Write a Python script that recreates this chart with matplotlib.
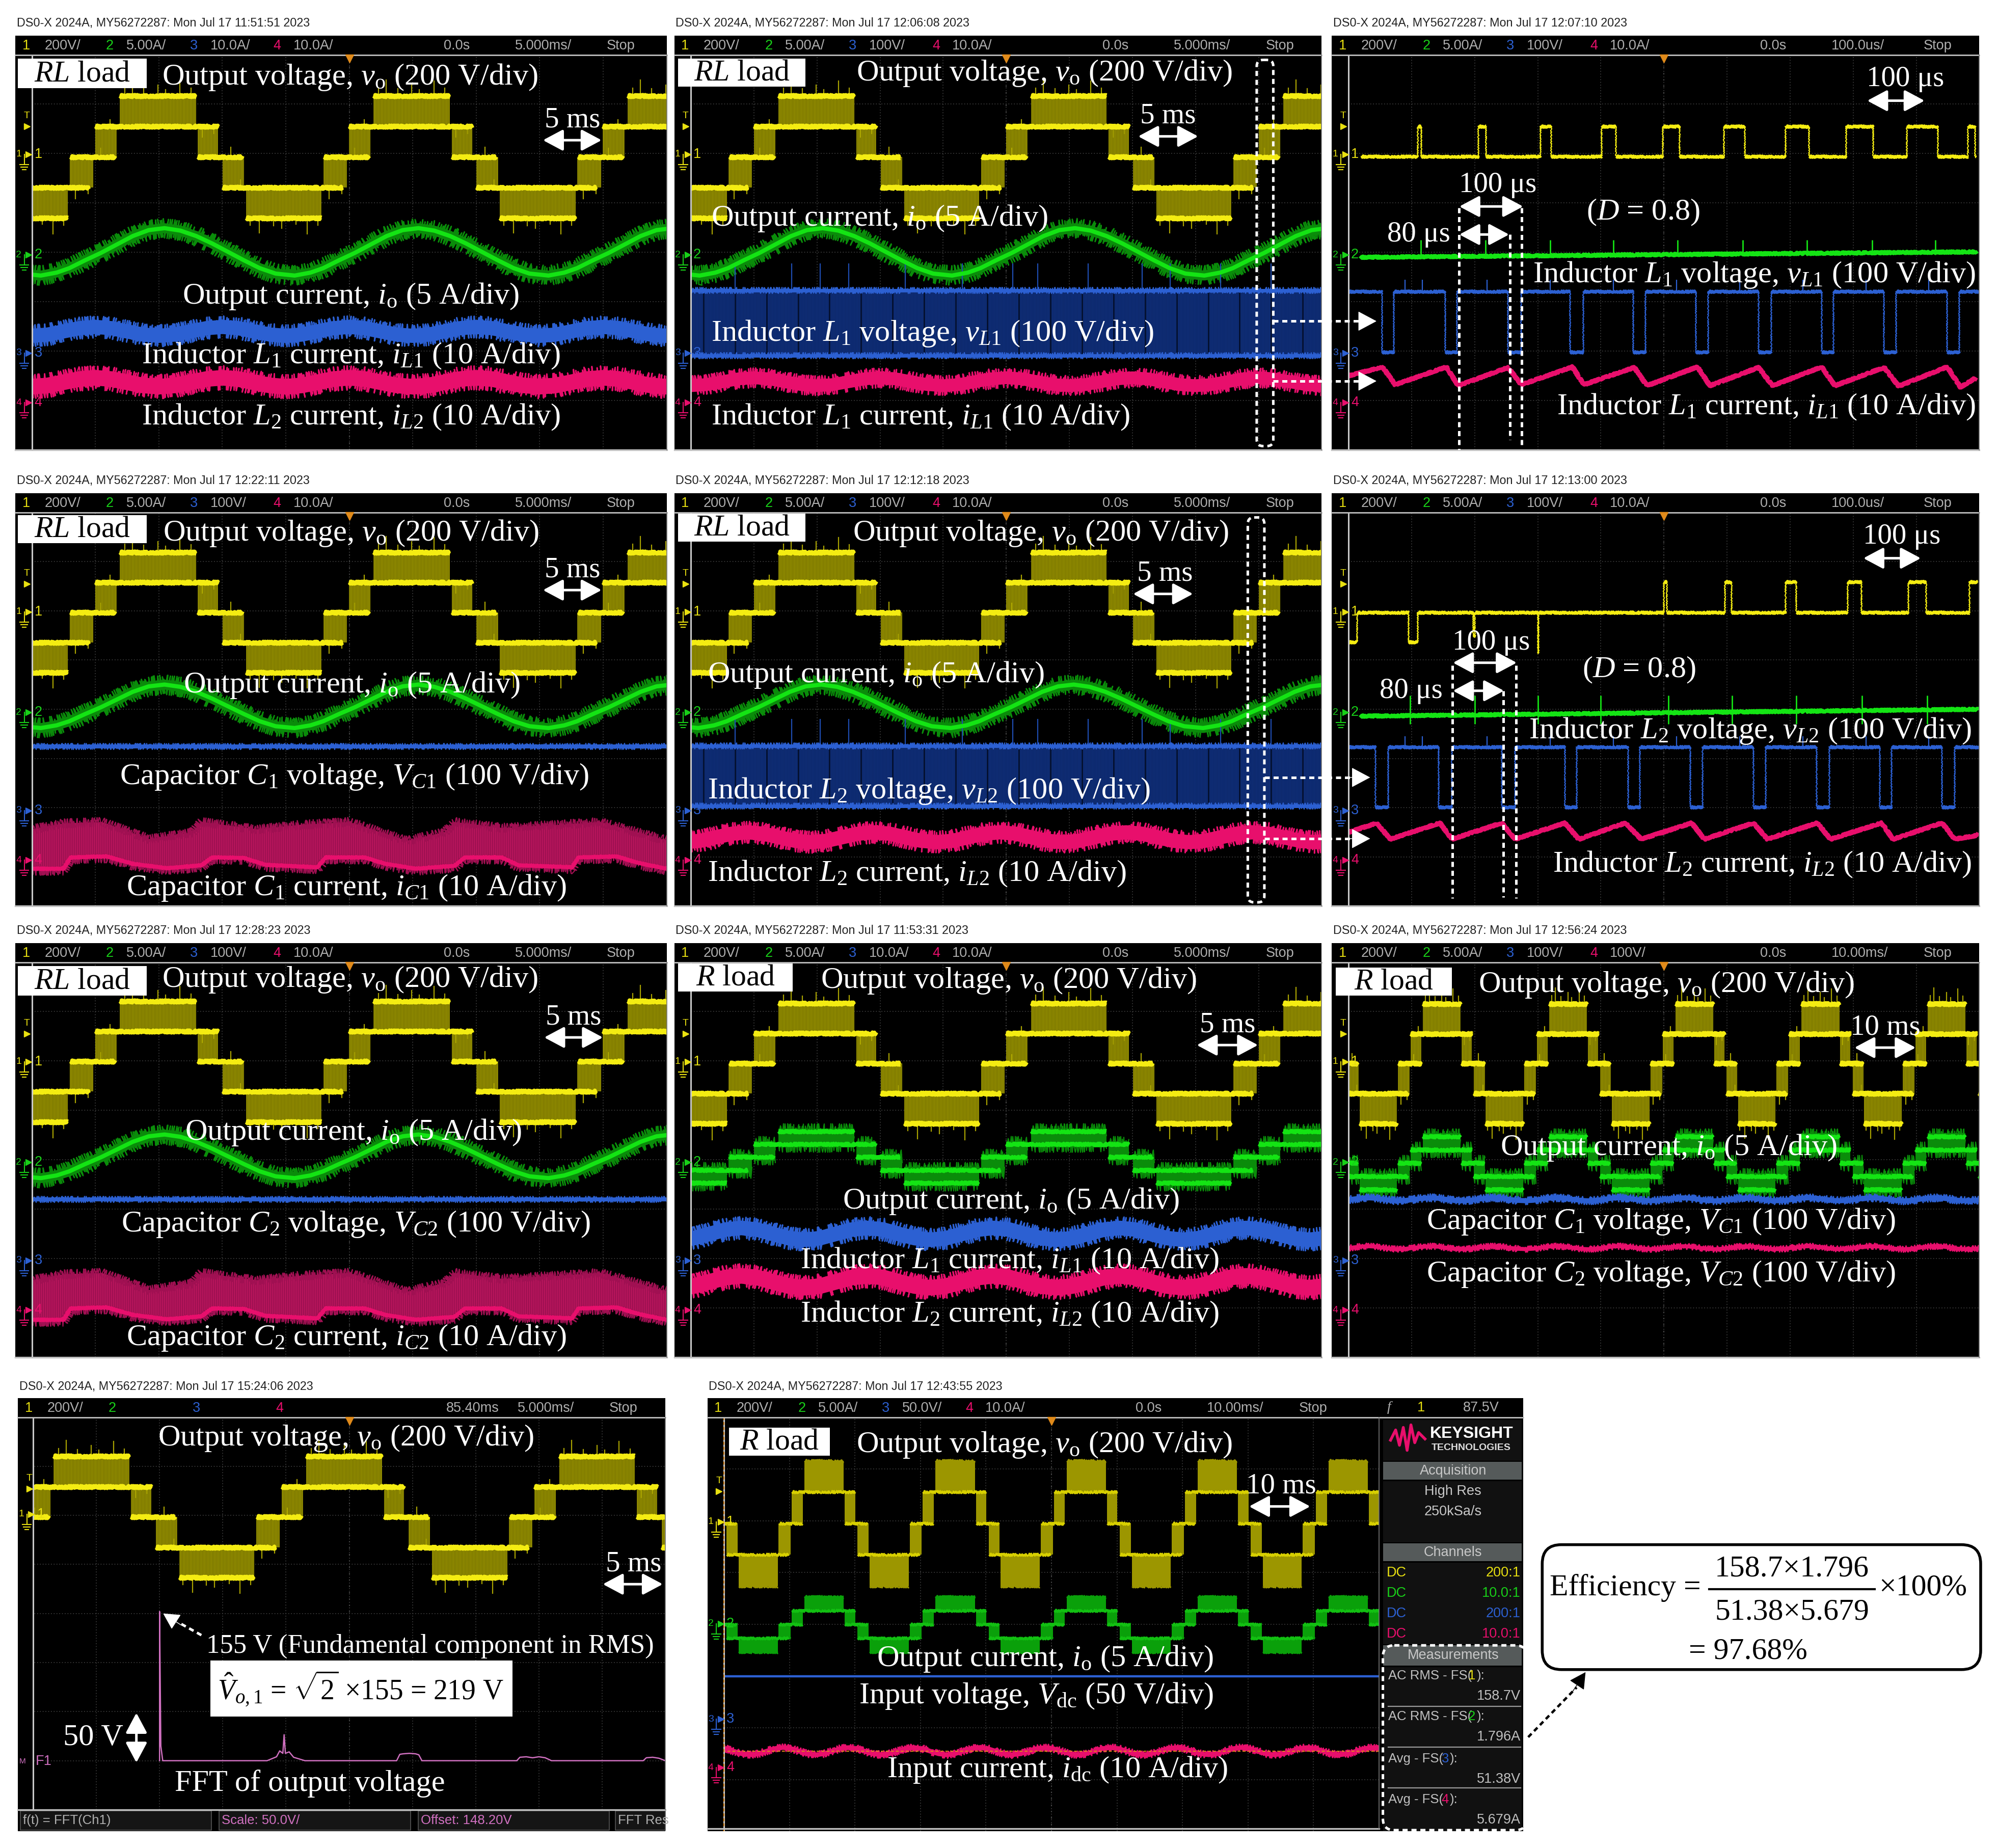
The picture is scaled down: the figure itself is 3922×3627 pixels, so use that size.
#!/usr/bin/env python3
"""Oscilloscope captures of the seven-level inverter (11 screens + efficiency box)"""

import numpy as np
import matplotlib
matplotlib.use('Agg')
import matplotlib.pyplot as plt
from matplotlib.patches import FancyBboxPatch, Rectangle

plt.rcParams['font.family'] = ['Liberation Serif', 'DejaVu Serif']
plt.rcParams['mathtext.fontset'] = 'custom'
plt.rcParams['mathtext.rm'] = 'Liberation Serif'
plt.rcParams['mathtext.it'] = 'Liberation Serif:italic'
plt.rcParams['mathtext.bf'] = 'Liberation Serif:bold'
plt.rcParams['hatch.linewidth'] = 1.0

W, H = 1568.0, 1450.0
NARROW = ['Liberation Sans', 'DejaVu Sans']
HDR = 19.5

# --- colours
YEL, YEL_D = '#f4ec12', '#6e6a00'
GRN, GRN_D = '#14e414', '#0a8c0a'
BLU, BLU_D = '#2c60d2', '#10307c'
PNK, PNK_D = '#e80f6c', '#a01052'

# --- output voltage staircase, one 4 div period (div from the first rising edge to top level)
band_t0 = [0.00, 1.23, 1.62, 1.99, 3.21, 3.61]
band_t1 = [1.20, 1.55, 1.96, 3.18, 3.58, 3.95]
band_hi = [2, 1, 0, -1, 0, 1]
band_lo = [1, 0, -1, -2, -1, 0]
line_t0 = [0.00, -0.39, 1.23, 3.22, 1.62, 1.99]
line_t1 = [1.20, 1.55, 1.93, 3.93, 3.51, 3.18]
line_lev = [2, 1, 0, 0, -1, -2]
spike_t = [0.08, 0.2, 0.38, 0.6, 0.72, 0.95, 1.12, 1.3, 1.48, 1.75, 1.9, 2.05, 2.2, 2.42, 2.55, 2.78, 2.95, 3.12, 3.3, 3.5, 3.7, 3.85]
spike_lev = [2, 2, 2, 2, 2, 2, 2, 1, 1, 0, -1, -2, -2, -2, -2, -2, -2, -2, -1, -1, 0, 1]
spike_len = [-0.16, -0.32, -0.14, -0.22, -0.12, -0.3, -0.15, 0.22, 0.14, -0.2, -0.16, 0.14, 0.3, 0.15, 0.2, 0.12, 0.32, 0.14, 0.22, 0.12, -0.18, -0.14]

# --- output current, one period from its crest (offset in div, + is lower on screen)
io_t = [0, 0.25, 0.5, 0.75, 1, 1.25, 1.5, 1.75, 2.05, 2.3, 2.5, 2.75, 3, 3.25, 3.5, 3.75, 4]
io_y = [-0.48, -0.43, -0.32, -0.17, 0, 0.17, 0.33, 0.44, 0.48, 0.42, 0.33, 0.17, 0.02, -0.15, -0.32, -0.44, -0.48]

# --- inductor current ripple, one 2 div period from its crest
rip_t = [0, 0.25, 0.5, 0.75, 1, 1.25, 1.5, 1.75, 2]
rip_y = [-1.0, -0.72, 0.02, 0.72, 1.0, 0.72, 0.0, -0.72, -1.0]

# --- capacitor current envelope and bright trace
ic_top_t = [0, 0.5, 1.1, 1.86, 2.53, 2.67, 3.55, 4.22, 5, 5.91, 6.5, 6.66, 7.4, 8.28, 8.95, 9.93, 10]
ic_top_y = [6.44, 6.32, 6.29, 6.64, 6.5, 6.29, 6.44, 6.35, 6.29, 6.67, 6.5, 6.29, 6.41, 6.35, 6.29, 6.64, 6.66]
ic_low_t = [0, 0.5, 0.61, 1.18, 1.59, 2.13, 2.67, 2.84, 3.34, 3.68, 4.5, 4.63, 5.24, 5.57, 6.05, 6.66, 6.82, 7.4, 7.67, 8.51, 8.61, 9.22, 9.55, 10]
ic_low_y = [7.24, 7.24, 7.01, 6.99, 7.14, 7.23, 7.17, 7.01, 7.02, 7.16, 7.21, 7.01, 7.01, 7.14, 7.24, 7.18, 7.01, 7.01, 7.17, 7.21, 7.01, 6.99, 7.12, 7.24]

# --- switching detail, 100 us/div, panel (c)
c_yel_up = [1.10, 1.155, 2.06, 2.18, 3.04, 3.21, 4.01, 4.24, 4.98, 5.25, 5.95, 6.28, 6.93, 7.30, 7.89, 8.32, 8.85, 9.34, 9.82, 9.93]
c_blu_dn = [0.53, 0.72, 1.53, 1.72, 2.53, 2.74, 3.51, 3.72, 4.51, 4.71, 5.51, 5.70, 6.50, 6.70, 7.50, 7.69, 8.49, 8.68, 9.49, 9.68]
c_pnk_t = [0, 0.54, 0.74, 1.55, 1.74, 2.53, 2.74, 3.55, 3.73, 4.53, 4.73, 5.53, 5.73, 6.5, 6.72, 7.5, 7.71, 8.49, 8.72, 9.49, 9.70, 9.93]
c_pnk_y = [6.5, 6.32, 6.68, 6.32, 6.7, 6.33, 6.68, 6.32, 6.68, 6.33, 6.7, 6.32, 6.7, 6.33, 6.7, 6.32, 6.7, 6.33, 6.71, 6.32, 6.73, 6.55]
c_grn_t = [0.2, 9.95]
c_grn_y = [4.10, 3.99]
c_spk = [1.15, 2.17, 3.2, 4.2, 5.22, 6.25, 7.27, 8.3, 9.3]
c_blu_spk = [0.9, 1.17, 2.2, 3.2, 4.2, 5.2, 6.2, 7.2, 8.2, 9.2]

# --- switching detail, panel (f)
f_yel_t = [0, 0.14, 0.14, 0.2, 0.95, 0.95, 1.10, 1.10, 1.98, 1.98, 2.0, 2.0, 3.0, 3.0, 3.01, 3.01, 5.0, 5.0, 5.05, 5.05, 5.97, 5.97, 6.07, 6.07, 6.93, 6.93, 7.10, 7.10, 7.91, 7.91, 8.13, 8.13, 8.87, 8.87, 9.16, 9.16, 9.84, 9.84, 9.97]
f_yel_y = [2.63, 2.63, 2.03, 2.03, 2.03, 2.63, 2.63, 2.03, 2.03, 2.5, 2.5, 2.03, 2.03, 2.85, 2.85, 2.03, 2.03, 1.41, 1.41, 2.03, 2.03, 1.41, 1.41, 2.03, 2.03, 1.41, 1.41, 2.03, 2.03, 1.41, 1.41, 2.03, 2.03, 1.41, 1.41, 2.03, 2.03, 1.41, 1.41]
f_blu_dn = [0.43, 0.63, 1.43, 1.64, 2.43, 2.64, 3.43, 3.62, 4.43, 4.62, 5.42, 5.61, 6.42, 6.61, 7.42, 7.62, 8.42, 8.61, 9.41, 9.61]
f_pnk_t = [0, 0.45, 0.66, 1.45, 1.64, 2.43, 2.64, 3.43, 3.65, 4.39, 4.64, 5.44, 5.64, 6.42, 6.64, 7.43, 7.64, 8.45, 8.63, 9.41, 9.61, 9.97]
f_pnk_y = [6.5, 6.31, 6.64, 6.31, 6.64, 6.31, 6.64, 6.31, 6.64, 6.31, 6.64, 6.31, 6.64, 6.31, 6.64, 6.31, 6.64, 6.31, 6.64, 6.31, 6.64, 6.56]
f_spk = [0.98, 2.0, 3.0, 4.0, 5.07, 6.08, 7.1, 8.14, 9.17]

# --- FFT trace of panel (j)
fft_t = [2.0, 2.0, 2.02, 2.05, 3.7, 3.85, 3.9, 3.95, 3.97, 3.99, 4.05, 4.12, 4.3, 5.75, 5.8, 5.85, 5.95, 6.05, 6.1, 6.15, 7.65, 7.7, 7.8, 7.9, 8.0, 8.1, 8.2, 9.65, 9.7, 9.8, 9.9, 10]
fft_y = [7.0, 3.96, 6.7, 7.0, 7.0, 6.92, 6.8, 6.85, 6.47, 6.85, 6.82, 6.93, 7.0, 7.0, 6.87, 6.86, 6.85, 6.86, 6.88, 7.0, 7.0, 6.93, 6.92, 6.94, 6.92, 6.94, 7.0, 7.0, 6.94, 6.93, 6.95, 7.0]

inv_blu_spk = [0.7, 1.6, 2.05, 2.5, 3.4, 4.3, 5.1, 5.5, 6.3, 7.15, 7.6, 8.4, 9.2]

# --- scope headers
TIMES = ['11:51:51', '12:06:08', '12:07:10', '12:22:11', '12:12:18', '12:13:00',
         '12:28:23', '11:53:31', '12:56:24', '15:24:06', '12:43:55']

fig = plt.figure(figsize=(39.23, 36.27), dpi=100, facecolor='white')
ov = fig.add_axes([0, 0, 1, 1], zorder=10)
ov.set_xlim(0, W)
ov.set_ylim(H, 0)
ov.axis('off')
ov.patch.set_alpha(0)


def scope_ax(x0, y0, x1, y1, xleft):
    """Black screen whose data units are scope divisions, y counted from the top."""
    ax = fig.add_axes([x0 / W, 1 - y1 / H, (x1 - x0) / W, (y1 - y0) / H])
    div = (x1 - xleft) / 10.0
    left = -(xleft - x0) / div
    ax.set_xlim(left, 10)
    ax.set_ylim(8, 0)
    ax.set_facecolor('black')
    ax.set_xticks([])
    ax.set_yticks([])
    for s in ax.spines.values():
        s.set_visible(False)
    for i in range(1, 10):
        ax.axvline(i, color='#3a3a3a', lw=1.3, ls=(0, (1, 2)), zorder=0)
    for j in range(1, 8):
        ax.axhline(j, color='#3a3a3a', lw=1.3, ls=(0, (1, 2)), zorder=0)
    ax.axvline(5, color='#4a4a4a', lw=1.5, ls=(0, (1, 5)), zorder=0)
    # traces start at the left graticule edge
    ax.add_patch(Rectangle((left, 0), -left, 8, fc='black', ec='none', zorder=6))
    ax.axvline(0, color='#c8c8c8', lw=2.2, zorder=7)
    return ax


def lw_of(d):
    # thickness in div -> points
    return d * 97 * 0.72


def rough(line, scale=2, length=6, rnd=3):
    line.set_sketch_params(scale, length, rnd)
    return line


def scribble(ax, xs, ys, half, color, length=5, rnd=3, lw=1.6, z=2):
    # noisy band: a thin trace shaken by half px across its path
    rough(ax.plot(xs, ys, color=color, lw=lw, solid_capstyle='butt', zorder=z)[0], half, length, rnd)


def stair(ax, phase, center, step, bright, dark, period=4, pad=0.0, blw=0.075, ends=True, spikes=True):
    s = period / 4.0
    n = int(12 / period) + 2
    olive = dark == YEL_D
    for k in range(-1, n):
        o = phase + k * period
        for t0, t1, hi, lo in zip(band_t0, band_t1, band_hi, band_lo):
            ax.fill_between([o + t0 * s, o + t1 * s], center - hi * step - pad * 0.4, center - lo * step + pad * 0.4,
                            facecolor=dark, edgecolor='#a09a00' if olive else dark,
                            hatch='||||||' if olive else None, linewidth=0, zorder=2)
            if pad > 0:
                for lev in (hi, lo):
                    scribble(ax, [o + t0 * s, o + t1 * s], [center - lev * step] * 2, pad * 97, dark)
        for t0, t1, lev in zip(line_t0, line_t1, line_lev):
            col = bright if ends or abs(lev) < 2 else dark
            rough(ax.plot([o + t0 * s, o + t1 * s], [center - lev * step] * 2, color=col,
                          lw=lw_of(blw), solid_capstyle='butt', zorder=3)[0], 2.5, 4, 3)
        if spikes:
            for t, lev, d in zip(spike_t, spike_lev, spike_len):
                y = center - lev * step
                ax.plot([o + t * s] * 2, [y, y + d], color='#a8a200', lw=1.6, zorder=2)


def periodic(t, y, phase, period):
    xs, ys = [], []
    t = np.asarray(t, float)
    for k in range(-1, int(12 / period) + 2):
        xs.extend(phase + k * period + t)
        ys.extend(y)
    return np.array(xs), np.array(ys)


def current(ax, phase, center, amp=1.0, half=0.2, core=0.085):
    xs, ys = periodic(io_t, io_y, phase, 4)
    ax.plot(xs, center + amp * ys, color=GRN_D, lw=lw_of(0.2), solid_capstyle='butt', zorder=2)
    scribble(ax, xs, center + amp * ys, half * 97, GRN_D, length=5, lw=1.8)
    ax.plot(xs, center + amp * ys, color=GRN, lw=lw_of(core), zorder=3)


def ripple(ax, phase, center, amp, thick, color, period=2.0):
    xs, ys = periodic(np.array(rip_t) * period / 2.0, rip_y, phase, period)
    ax.plot(xs, center + amp * ys, color=color, lw=lw_of(thick * 0.72), solid_capstyle='butt', zorder=2)
    scribble(ax, xs, center + amp * ys, thick * 0.56 * 97, color, length=5, lw=2.0)


def trace(ax, xs, ys, color, lw=0.05):
    # thin edges, thicker flat tops
    rough(ax.plot(xs, ys, color=color, lw=lw_of(0.022), zorder=3)[0], 1, 6, 3)
    for i in range(len(xs) - 1):
        if ys[i] == ys[i + 1] and xs[i + 1] > xs[i]:
            rough(ax.plot(xs[i:i + 2], ys[i:i + 2], color=color, lw=lw_of(lw), solid_capstyle='butt', zorder=3)[0], 2, 4, 3)


def square(ax, base, other, edges, color, lw=0.05, x_start=0.0, x_end=10.0):
    xs, ys = [x_start], [base]
    for i in range(0, len(edges), 2):
        xs += [edges[i], edges[i], edges[i + 1], edges[i + 1]]
        ys += [base, other, other, base]
    xs.append(x_end)
    ys.append(base)
    trace(ax, xs, ys, color, lw)


def header(x0, x1, y0, y1, stamp_y, stamp, scales, tb, t0='0.0s'):
    ov.add_patch(Rectangle((x0, y0), x1 - x0, y1 - y0, fc='black', ec='none'))
    ov.plot([x0, x1], [y1, y1], color='#c0c0c0', lw=2)
    ym = (y0 + y1) / 2 + 0.3
    ov.text(x0 + 1, stamp_y, 'DS0-X 2024A, MY56272287: Mon Jul 17 %s 2023' % stamp, family=NARROW, fontsize=16.8,
            color='#222222', va='center', ha='left')
    for lab, xo, col in zip('1234', [5.5, 71, 137, 202.5], ['#e8e010', '#18d018', '#2c60d2', PNK]):
        ov.text(x0 + xo, ym, lab, family=NARROW, fontsize=HDR, color=col, va='center', ha='left')
    for txt, xo in zip(scales, [23, 87, 153, 218]):
        ov.text(x0 + xo, ym, txt, family=NARROW, fontsize=HDR, color='#b0b0b0', va='center', ha='left')
    ov.text(x0 + 336, ym, t0, family=NARROW, fontsize=HDR, color='#b0b0b0', va='center', ha='left')
    ov.text(x0 + 392, ym, tb, family=NARROW, fontsize=HDR, color='#b0b0b0', va='center', ha='left')
    ov.text(x0 + 464, ym, 'Stop', family=NARROW, fontsize=HDR, color='#b0b0b0', va='center', ha='left')


def chmarks(x0, ytop, labs=((78, '1', '#e8e010'), (157, '2', '#18d018'), (234, '3', '#2c60d2'), (273, '4', PNK)), trig=True):
    for rel, lab, col in labs:
        y = ytop + rel
        ov.text(x0 + 15, y, lab, family=NARROW, fontsize=HDR, color=col, va='center', ha='left')
        ov.text(x0 + 0.5, y, lab, family=NARROW, fontsize=14, color=col, va='center', ha='left')
        ov.plot([x0 + 10.5], [y], marker='>', ms=8, color=col)
        ov.plot([x0 + 7, x0 + 7], [y, y + 8], color=col, lw=1.5)
        for dx, dy in ((3.5, 8), (2.5, 10), (1.5, 12)):
            ov.plot([x0 + 7 - dx, x0 + 7 + dx], [y + dy, y + dy], color=col, lw=1.5)
    if trig:
        ov.text(x0 + 9, ytop + 48, 'T', family=NARROW, fontsize=14, color='#e8e010', va='center', ha='center')
        ov.plot([x0 + 9], [ytop + 56], marker='>', ms=9, color='#e8e010')


def frame(x0, x1, y0, y1, xc):
    ov.plot([x0, x1], [y1, y1], color='#c0c0c0', lw=2.4)
    ov.plot([x1, x1], [y0, y1], color='#777777', lw=1.2)
    ov.plot([xc], [y0 + 3], marker='v', ms=11, color='#e08a1a')


def label(x, y, txt, ha='left', size=43.5):
    ov.text(x, y + 1.5, txt, color='white', fontsize=size, ha=ha, va='center')


def loadbox(x0, y0, x1, y1, txt):
    ov.add_patch(Rectangle((x0, y0), x1 - x0, y1 - y0, fc='white', ec='none'))
    ov.text((x0 + x1) / 2, (y0 + y1) / 2 + 0.5, txt, color='black', fontsize=43, ha='center', va='center')


def dbl(x0, y0, x1, y1, color='white'):
    ov.annotate('', xy=(x1, y1), xytext=(x0, y0),
                arrowprops=dict(arrowstyle='<|-|>,head_length=0.6,head_width=0.32', color=color, lw=3.6,
                                mutation_scale=40, shrinkA=0, shrinkB=0))


def span(xa, xb, y, txt, tx=None, ty=None):
    dbl(xa, y, xb, y)
    ov.text((xa + xb) / 2 if tx is None else tx, y - 16 if ty is None else ty + 1, txt, color='white', fontsize=41,
            ha='center', va='center')


def dash_arrow(x0, y, x1):
    ov.plot([x0, x1 - 14], [y, y], color='white', lw=3.6, ls=(0, (2, 1.5)))
    ov.annotate('', xy=(x1, y), xytext=(x1 - 16, y),
                arrowprops=dict(arrowstyle='-|>,head_length=0.6,head_width=0.32', color='white', lw=1,
                                mutation_scale=40, shrinkA=0, shrinkB=0))


def vdash(x, y0, y1):
    ov.plot([x, x], [y0, y1], color='white', lw=3.6, ls=(0, (2, 1.5)))


def dash_round(x0, y0, x1, y1, rnd=5):
    ov.add_patch(FancyBboxPatch((x0, y0), x1 - x0, y1 - y0, boxstyle='round,pad=0,rounding_size=%g' % rnd,
                                fc='none', ec='white', lw=3.6, ls=(0, (2, 1.5)), mutation_aspect=1))


vo = r'Output voltage, $v_{\mathrm{o}}$ (200 V/div)'
io = r'Output current, $i_{\mathrm{o}}$ (5 A/div)'
iL1 = r'Inductor $L_{1}$ current, $i_{L1}$ (10 A/div)'
iL2 = r'Inductor $L_{2}$ current, $i_{L2}$ (10 A/div)'
vL1 = r'Inductor $L_{1}$ voltage, $v_{L1}$ (100 V/div)'
vL2 = r'Inductor $L_{2}$ voltage, $v_{L2}$ (100 V/div)'
vC1 = r'Capacitor $C_{1}$ voltage, $V_{C1}$ (100 V/div)'
vC2 = r'Capacitor $C_{2}$ voltage, $V_{C2}$ (100 V/div)'
iC1 = r'Capacitor $C_{1}$ current, $i_{C1}$ (10 A/div)'
iC2 = r'Capacitor $C_{2}$ current, $i_{C2}$ (10 A/div)'
RL = r'$RL$ load'
R = r'$R$ load'
COLX = [(12, 523), (529, 1037), (1045, 1553)]
ROWY = [(28, 43, 353, 18), (387, 402, 711, 377), (740, 755, 1065, 730)]


def panel(col, row, stamp, scales, tb):
    x0, x1 = COLX[col]
    yh, y0, y1, ys = ROWY[row]
    ax = scope_ax(x0, y0, x1, y1, x0 + 13)
    header(x0, x1, yh, y0, ys, stamp, scales, tb)
    chmarks(x0, y0)
    frame(x0, x1, y0, y1, x0 + 13 + (x1 - x0 - 13) / 2)
    return ax


def solid_inductor(ax, top, bot):
    ax.fill_between([0, 10], top, bot, facecolor=BLU_D, edgecolor='#0c2666', hatch='||||||', linewidth=0, zorder=2)
    for y in (top, bot):
        ax.plot([0, 10], [y, y], color=BLU, lw=lw_of(0.07), solid_capstyle='butt', zorder=3)
        scribble(ax, [0, 10], [y, y], 6, BLU, z=3)
    ax.vlines(inv_blu_spk, top - 0.55, top, color='#1e4cb0', lw=1.6, zorder=2)
    ax.vlines(np.arange(0, 10, 0.5) + 0.2, top, bot, color='#04102e', lw=2, zorder=2)


def cap_current(ax):
    ax.fill(ic_top_t + ic_low_t[::-1], ic_top_y + ic_low_y[::-1], facecolor=PNK_D, edgecolor='#c01860', hatch='||||', lw=0, zorder=2)
    scribble(ax, ic_top_t, ic_top_y, 9, PNK_D)
    scribble(ax, ic_low_t, np.array(ic_low_y) + 0.04, 9, PNK_D)
    ax.plot(ic_low_t, ic_low_y, color=PNK, lw=lw_of(0.08), zorder=3)
    scribble(ax, ic_low_t, ic_low_y, 4, PNK, z=3)


# (a) RL load, inductor currents
ax = panel(0, 0, TIMES[0], ['200V/', '5.00A/', '10.0A/', '10.0A/'], '5.000ms/')
stair(ax, 1.385, 2.07, 0.62, YEL, YEL_D)
current(ax, 2.09, 3.99)
ripple(ax, 1.0, 5.6, 0.09, 0.4, BLU)
ripple(ax, 1.0, 6.63, 0.09, 0.44, PNK)
loadbox(14, 46, 115, 69, RL)
label(127, 59, vo)
label(275, 231, io, 'center')
label(111, 278, iL1)
label(111, 326, iL2)
span(426, 472, 110, '5 ms')

# (b) RL load, L1 voltage
ax = panel(1, 0, TIMES[1], ['200V/', '5.00A/', '100V/', '10.0A/'], '5.000ms/')
stair(ax, 1.39, 2.07, 0.62, YEL, YEL_D)
current(ax, 2.09, 3.99)
solid_inductor(ax, 4.77, 6.09)
ripple(ax, 1.0, 6.62, 0.08, 0.36, PNK)
loadbox(532, 46, 632, 68, RL)
label(672, 56, vo)
label(558, 170, io)
label(558, 260, vL1)
label(558, 326, iL1)
span(893, 940, 107, '5 ms')
dash_round(986, 47, 999, 350)
dash_arrow(999, 252, 1080)
dash_arrow(999, 299, 1080)

# (c) zoom of (b)
ax = panel(2, 0, TIMES[2], ['200V/', '5.00A/', '100V/', '10.0A/'], '100.0us/')
square(ax, 2.06, 1.45, c_yel_up, YEL, x_start=0.2, x_end=9.95)
rough(ax.plot(c_grn_t, c_grn_y, color=GRN, lw=lw_of(0.07), zorder=3)[0], 2, 4, 3)
ax.vlines(c_spk, 3.75, 4.05, color=GRN, lw=2, zorder=3)
square(ax, 4.79, 6.02, c_blu_dn, BLU)
ax.vlines(c_blu_spk, 4.55, 4.79, color=BLU, lw=1.6, zorder=3)
rough(ax.plot(c_pnk_t, c_pnk_y, color=PNK, lw=lw_of(0.075), zorder=3)[0], 2, 4, 3)
label(1550, 214, vL1, 'right')
label(1550, 318, iL1, 'right')
vdash(1144.6, 163, 353)
vdash(1184.5, 184, 345)
vdash(1194, 163, 350)
span(1465, 1510, 79, '100 μs', 1495, 61)
span(1145, 1195, 162, '100 μs', 1175, 144)
span(1145, 1184, 184, '80 μs', 1113, 183)
label(1289, 165, r'($D$ = 0.8)', 'center')

# (d) RL load, capacitor C1
ax = panel(0, 1, TIMES[3], ['200V/', '5.00A/', '100V/', '10.0A/'], '5.000ms/')
stair(ax, 1.385, 2.03, 0.61, YEL, YEL_D)
current(ax, 2.09, 3.94, 0.92)
ax.plot([0, 10], [4.76, 4.76], color=BLU, lw=lw_of(0.08), solid_capstyle='butt', zorder=3)
scribble(ax, [0, 10], [4.76, 4.76], 6, BLU, z=3)
cap_current(ax)
loadbox(14, 404, 115, 426, RL)
label(128, 417, vo)
label(144, 536, io)
label(94, 608, vC1)
label(99, 695, iC1)
span(426, 472, 463, '5 ms')

# (e) RL load, L2 voltage
ax = panel(1, 1, TIMES[4], ['200V/', '5.00A/', '100V/', '10.0A/'], '5.000ms/')
stair(ax, 1.39, 2.03, 0.61, YEL, YEL_D)
current(ax, 2.07, 3.94, 0.92)
solid_inductor(ax, 4.75, 5.97)
ripple(ax, 0.9, 6.6, 0.1, 0.4, PNK)
loadbox(532, 403, 632, 425, RL)
label(669, 417, vo)
label(555, 528, io)
label(555, 619, vL2)
label(555, 684, iL2)
span(889, 936, 466, '5 ms', 914, 449)
dash_round(979, 406, 992, 708)
dash_arrow(992, 610, 1075)
dash_arrow(992, 658, 1075)

# (f) zoom of (e)
ax = panel(2, 1, TIMES[5], ['200V/', '5.00A/', '100V/', '10.0A/'], '100.0us/')
trace(ax, f_yel_t, f_yel_y, YEL)
rough(ax.plot([0.2, 9.97], [4.14, 4.0], color=GRN, lw=lw_of(0.07), zorder=3)[0], 2, 4, 3)
ax.vlines(f_spk, 3.72, 4.3, color=GRN, lw=2, zorder=3)
square(ax, 4.77, 5.99, f_blu_dn, BLU)
ax.vlines(c_blu_spk, 4.55, 4.77, color=BLU, lw=1.6, zorder=3)
rough(ax.plot(f_pnk_t, f_pnk_y, color=PNK, lw=lw_of(0.075), zorder=3)[0], 2, 4, 3)
label(1547, 572, vL2, 'right')
label(1547, 677, iL2, 'right')
vdash(1139.5, 522, 705)
vdash(1179.4, 542, 704)
vdash(1189.5, 522, 705)
span(1462, 1507, 438, '100 μs', 1492, 420)
span(1140, 1190, 520, '100 μs', 1170, 503)
span(1140, 1180, 542, '80 μs', 1107, 541)
label(1286, 524, r'($D$ = 0.8)', 'center')

# (g) RL load, capacitor C2
ax = panel(0, 2, TIMES[6], ['200V/', '5.00A/', '100V/', '10.0A/'], '5.000ms/')
stair(ax, 1.385, 2.01, 0.61, YEL, YEL_D)
current(ax, 2.09, 3.93, 0.92)
ax.plot([0, 10], [4.8, 4.8], color=BLU, lw=lw_of(0.08), solid_capstyle='butt', zorder=3)
scribble(ax, [0, 10], [4.8, 4.8], 6, BLU, z=3)
cap_current(ax)
loadbox(14, 758, 115, 781, RL)
label(127, 767, vo)
label(145, 887, io)
label(95, 959, vC2)
label(99, 1048, iC2)
span(427, 473, 814, '5 ms')

# (h) R load, 5 ms
ax = panel(1, 2, TIMES[7], ['200V/', '5.00A/', '10.0A/', '10.0A/'], '5.000ms/')
stair(ax, 1.39, 2.05, 0.61, YEL, YEL_D)
stair(ax, 1.39, 3.95, 0.26, GRN, GRN_D, pad=0.16, blw=0.06, spikes=False)
ripple(ax, 0.8, 5.5, 0.12, 0.41, BLU)
ripple(ax, 0.8, 6.47, 0.12, 0.44, PNK)
loadbox(532, 756, 622, 778, R)
label(644, 768, vo)
label(661, 941, io)
label(628, 988, iL1)
label(628, 1030, iL2)
span(939, 987, 820, '5 ms')

# (i) R load, 10 ms
ax = panel(2, 2, TIMES[8], ['200V/', '5.00A/', '100V/', '100V/'], '10.00ms/')
stair(ax, 1.18, 2.05, 0.606, YEL, YEL_D, period=2)
stair(ax, 1.18, 4.07, 0.27, GRN, GRN_D, period=2, pad=0.16, blw=0.06, spikes=False)
ripple(ax, 0.3, 4.8, 0.03, 0.14, BLU, period=1.0)
ripple(ax, 0.3, 5.78, 0.03, 0.11, PNK, period=1.0)
loadbox(1048, 759, 1139, 781, R)
label(1160, 771, vo)
label(1177, 899, io)
label(1119, 957, vC1)
label(1119, 998, vC2)
span(1455, 1503, 822, '10 ms', 1479, 805)

# (j) FFT
ax = scope_ax(14, 1112, 522, 1420, 26)
header(14, 522, 1097, 1112, 1088, TIMES[9], ['200V/', '', '', ''], '5.000ms/', '85.40ms')
stair(ax, 0.32, 2.03, 0.618, YEL, YEL_D)
ax.plot(fft_t, fft_y, color='#d070c0', lw=1.8, zorder=3)
ax.plot([5], [0.05], marker='v', ms=10, mfc='none', mec='#e08a1a')
chmarks(14, 1112, labs=((76, '1', '#e8e010'),), trig=True)
ov.text(28, 1382, 'F1', family=NARROW, fontsize=HDR, color='#d070c0', va='center')
ov.text(15, 1382, 'M', family=NARROW, fontsize=11, color='#d070c0', va='center')
frame(14, 522, 1112, 1420, 274)
ov.add_patch(Rectangle((14, 1420), 508, 17, fc='black', ec='none'))
for xa, xb, txt in ((16, 166, 'f(t) = FFT(Ch1)'), (172, 322, 'Scale: 50.0V/'), (328, 478, 'Offset: 148.20V'), (483, 522, 'FFT Res')):
    ov.add_patch(Rectangle((xa, 1421), xb - xa, 15, fc='#151515', ec='#555555', lw=1.2))
    ov.text(xa + 2, 1428.5, txt, family=NARROW, fontsize=HDR - 1, color='#d070c0' if 'FFT' not in txt else '#b0b0b0', va='center')
label(124, 1127, vo)
span(473, 520, 1243, '5 ms', 497, 1226)
ov.add_patch(Rectangle((165, 1303), 237, 44, fc='white', ec='none'))
ov.text(283, 1325, r'$\hat{V}_{o,1}$ = $\sqrt{2}$ ×155 = 219 V', color='black', fontsize=40, ha='center', va='center')
label(162, 1290, '155 V (Fundamental component in RMS)', size=38)
ov.plot([158, 140], [1283, 1273], color='white', lw=3.6, ls=(0, (2, 1.5)))
ov.annotate('', xy=(128, 1266), xytext=(142, 1275),
            arrowprops=dict(arrowstyle='-|>,head_length=0.6,head_width=0.32', color='white', lw=1, mutation_scale=34, shrinkA=0, shrinkB=0))
dbl(107, 1344, 107, 1383)
label(73, 1362, '50 V', 'center')
label(243, 1398, 'FFT of output voltage', 'center')

# (k) R load, efficiency
ax = scope_ax(555, 1112, 1082, 1437, 568)
header(555, 1195, 1097, 1112, 1088, TIMES[10], ['200V/', '5.00A/', '50.0V/', '10.0A/'], '10.00ms/')
stair(ax, 1.23, 2.05, 0.606, '#d8d000', '#9c9600', period=2, blw=0.035, ends=False, spikes=False)
stair(ax, 1.23, 4.0, 0.267, '#12c012', '#0aa00a', period=2, blw=0.035, pad=0.02, ends=False, spikes=False)
ax.axhline(5.0, color=BLU, lw=3.2, zorder=3)
ripple(ax, 0.9, 6.45, 0.07, 0.13, PNK, period=1.0)
ax.axhline(6.45, color='#e08a1a', lw=1.4, ls=(0, (3, 2)), zorder=4)
ax.axvline(0, color='#e08a1a', lw=1.4, ls=(0, (3, 2)), zorder=8)
chmarks(555, 1114, labs=((80, '1', '#e8e010'), (160, '2', '#18d018'), (235, '3', '#2c60d2'), (273, '4', PNK)))
frame(555, 1082, 1112, 1435, 825)
loadbox(572, 1120, 651, 1142, R)
label(672, 1132, vo)
label(688, 1300, io)
label(674, 1329, r'Input voltage, $V_{\mathrm{dc}}$ (50 V/div)')
label(696, 1387, r'Input current, $i_{\mathrm{dc}}$ (10 A/div)')
span(980, 1028, 1182, '10 ms', 1005, 1165)

# keysight side bar
ov.add_patch(Rectangle((1082, 1112), 113, 325, fc='black', ec='none'))
ov.text(1088, 1104.5, '$\\mathit{f}$', color='#b0b0b0', fontsize=20, va='center')
ov.text(1112, 1104.5, '1', family=NARROW, fontsize=HDR, color='#e8e010', va='center')
ov.text(1148, 1104.5, '87.5V', family=NARROW, fontsize=HDR, color='#b0b0b0', va='center')
for y0, y1 in ((1114, 1146), (1147, 1161), (1162, 1210), (1211, 1225), (1226, 1290), (1291, 1307), (1308, 1437)):
    fc = '#555a5a' if y1 - y0 < 20 else '#111111'
    ov.add_patch(Rectangle((1085, y0), 109, y1 - y0, fc=fc, ec='none'))
for txt, y in (('Acquisition', 1154), ('Channels', 1218), ('Measurements', 1299)):
    ov.text(1140, y, txt, family=NARROW, fontsize=HDR, color='#c8c8c8', ha='center', va='center')
ov.plot([1091, 1095, 1098, 1101, 1104, 1107, 1110, 1113, 1118], [1130, 1122, 1134, 1120, 1138, 1118, 1132, 1124, 1129],
        color=PNK, lw=4)
ov.text(1122, 1125, 'KEYSIGHT', family=['Liberation Sans'], fontweight='bold', fontsize=23, color='white', va='center')
ov.text(1123, 1136, 'TECHNOLOGIES', family=['Liberation Sans'], fontweight='bold', fontsize=14, color='#dddddd', va='center')
ov.text(1140, 1170, 'High Res', family=NARROW, fontsize=HDR, color='#c8c8c8', ha='center', va='center')
ov.text(1140, 1186, '250kSa/s', family=NARROW, fontsize=HDR, color='#c8c8c8', ha='center', va='center')
for y, ratio, col in ((1234, '200:1', '#e8e010'), (1250, '10.0:1', '#18d018'), (1266, '200:1', '#2c60d2'), (1282, '10.0:1', PNK)):
    ov.text(1088, y, 'DC', family=NARROW, fontsize=HDR, color=col, va='center')
    ov.text(1193, y, ratio, family=NARROW, fontsize=HDR, color=col, ha='right', va='center')
for y, name, dx, dig, col, val in ((1315, 'AC RMS - FS(', 63, '1', '#e8e010', '158.7V'),
                                   (1347, 'AC RMS - FS(', 63, '2', '#18d018', '1.796A'),
                                   (1380, 'Avg - FS(', 42, '3', '#2c60d2', '51.38V'),
                                   (1412, 'Avg - FS(', 42, '4', PNK, '5.679A')):
    ov.text(1089, y, name, family=NARROW, fontsize=HDR - 1, color='#c0c0c0', va='center')
    ov.text(1089 + dx, y, dig, family=NARROW, fontsize=HDR - 1, color=col, va='center')
    ov.text(1089 + dx + 6.5, y, '):', family=NARROW, fontsize=HDR - 1, color='#c0c0c0', va='center')
    ov.text(1193, y + 16, val, family=NARROW, fontsize=HDR, color='#c0c0c0', ha='right', va='center')
for y in (1339, 1371, 1403):
    ov.plot([1089, 1193], [y, y], color='#9a9a9a', lw=1.6)
dash_round(1085, 1291, 1198, 1436, 9)

# efficiency box
ov.plot([1199, 1237], [1363, 1324], color='black', lw=3.4, ls=(0, (2, 1.5)))
ov.annotate('', xy=(1244, 1312), xytext=(1234, 1327),
            arrowprops=dict(arrowstyle='-|>,head_length=0.6,head_width=0.32', color='black', lw=1, mutation_scale=34, shrinkA=0, shrinkB=0))
ov.add_patch(FancyBboxPatch((1210, 1212), 344, 98, boxstyle='round,pad=0,rounding_size=15', fc='white', ec='black', lw=4,
                            mutation_aspect=1))
ov.text(1216, 1246, 'Efficiency =', color='black', fontsize=43, va='center')
ov.text(1406, 1231, '158.7×1.796', color='black', fontsize=43, ha='center', va='center')
ov.plot([1341, 1471], [1247, 1247], color='black', lw=3)
ov.text(1406, 1265, '51.38×5.679', color='black', fontsize=43, ha='center', va='center')
ov.text(1474, 1246, '×100%', color='black', fontsize=43, va='center')
ov.text(1325, 1296, '= 97.68%', color='black', fontsize=43, va='center')

fig.savefig('out.png', dpi=100, facecolor='white')
